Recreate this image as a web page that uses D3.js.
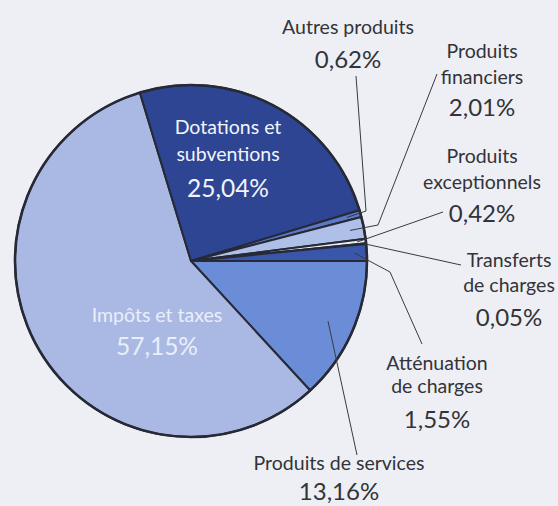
<!DOCTYPE html>
<html>
<head>
<meta charset="utf-8">
<script src="https://cdn.jsdelivr.net/npm/d3@7"></script>
<style>
  html, body { margin: 0; padding: 0; background: #edeff4; }
  svg { display: block; }
</style>
</head>
<body>
<div class="svg-container"></div>
<script>
// slices, clockwise from 3 o'clock
const categories = ["Produits de services", "Impôts et taxes", "Dotations et subventions", "Autres produits",
    "Produits financiers", "Produits exceptionnels", "Transferts de charges", "Atténuation de charges"];
const values = [13.16, 57.15, 25.04, 0.62, 2.01, 0.42, 0.05, 1.55];
const valueLabels = ["13,16%", "57,15%", "25,04%", "0,62%", "2,01%", "0,42%", "0,05%", "1,55%"];
const nameLines = [["Produits de services"], ["Impôts et taxes"], ["Dotations et", "subventions"], ["Autres produits"],
    ["Produits", "financiers"], ["Produits", "exceptionnels"], ["Transferts", "de charges"], ["Atténuation", "de charges"]];

const colors = ["#6b8cd6", "#aab9e4", "#2d4593", "#5a79c6", "#aebfe8", "#e9eef8", "#2d4593", "#3a56ab"];

// label layout: x centre, first baseline, line step, value gap, text colour, inside?, leader line
const layout = [
    {x: 339, y: 470, step: 30, vgap: 30, fill: "#333338", inside: false, elbow: [], from: [357, 455], r: 0.85},
    {x: 157, y: 322, step: 32, vgap: 33, fill: "#eaeef9", inside: true},
    {x: 228, y: 134, step: 27, vgap: 36, fill: "#f2f4fb", inside: true},
    {x: 348, y: 34, step: 30, vgap: 34, fill: "#333338", inside: false, elbow: [366, 211], from: [356, 76], r: 0.92},
    {x: 482, y: 58, step: 26, vgap: 32, fill: "#333338", inside: false, elbow: [378, 225], from: [437, 74], r: 0.92},
    {x: 482, y: 163, step: 26, vgap: 33, fill: "#333338", inside: false, elbow: [], from: [443, 212], r: 0.95},
    {x: 509, y: 267, step: 25, vgap: 34, fill: "#333338", inside: false, elbow: [], from: [461, 265], r: 0.99},
    {x: 437, y: 370, step: 23, vgap: 35, fill: "#333338", inside: false, elbow: [390, 272], from: [422, 344], r: 0.93}
];

const width = 558, height = 506;
const cx = 191, cy = 261, R = 176;

const svg = d3.select(".svg-container").append("svg")
    .attr("width", width).attr("height", height)
    .attr("viewBox", "0 0 " + width + " " + height);

const pie = d3.pie().sort(null).value(d => d)
    .startAngle(Math.PI / 2).endAngle(Math.PI / 2 + 2 * Math.PI);
const arcs = pie(values);
const arc = d3.arc().innerRadius(0).outerRadius(R);

const g = svg.append("g").attr("transform", "translate(" + cx + "," + cy + ")");

g.selectAll("path.slice").data(arcs).enter().append("path")
    .attr("class", "slice")
    .attr("d", arc)
    .attr("fill", (d, i) => colors[i])
    .attr("stroke", "#272a36")
    .attr("stroke-width", 2)
    .attr("stroke-linejoin", "round");

g.append("circle").attr("r", R).attr("fill", "none")
    .attr("stroke", "#272a36").attr("stroke-width", 2.6);

// leader lines
function pointAt(d, f) {
    const a = (d.startAngle + d.endAngle) / 2;
    return [cx + Math.sin(a) * R * f, cy - Math.cos(a) * R * f];
}
arcs.forEach((d, i) => {
    const L = layout[i];
    if (L.inside) return;
    const pts = [L.from];
    if (L.elbow.length) pts.push(L.elbow);
    pts.push(pointAt(d, L.r));
    svg.append("path")
        .attr("d", d3.line()(pts))
        .attr("fill", "none")
        .attr("stroke", "#3a3a40")
        .attr("stroke-width", 1);
});

// labels
const font = "Lato, 'Open Sans', sans-serif";
arcs.forEach((d, i) => {
    const L = layout[i];
    const t = svg.append("g").attr("fill", L.fill).attr("font-family", font).attr("text-anchor", "middle");
    nameLines[i].forEach((s, k) => {
        t.append("text").attr("x", L.x).attr("y", L.y + k * L.step)
            .attr("font-size", L.inside ? 19.5 : 19.5).text(s);
    });
    t.append("text")
        .attr("x", L.x)
        .attr("y", L.y + (nameLines[i].length - 1) * L.step + L.vgap)
        .attr("font-size", L.inside ? 24.5 : 24)
        .text(valueLabels[i]);
});
</script>
</body>
</html>
